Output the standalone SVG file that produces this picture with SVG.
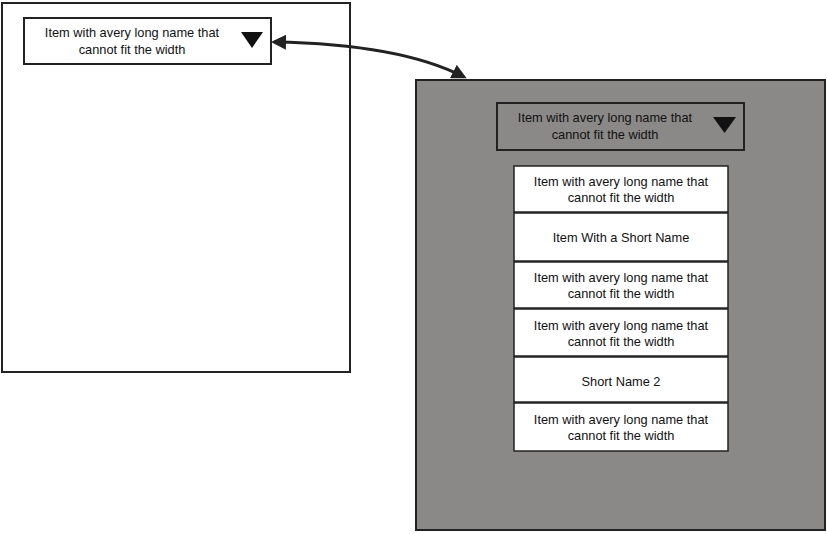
<svg xmlns="http://www.w3.org/2000/svg" width="827" height="534" viewBox="0 0 827 534">
<defs>
<style>
.frame{fill:#fff;stroke:#222;stroke-width:2}
.dark{fill:#8a8987;stroke:#222;stroke-width:2}
.dd{stroke:#222;stroke-width:2}
.item{fill:#fff;stroke:#222;stroke-width:1.5}
text{font-family:"Liberation Sans",Arial,sans-serif;font-size:12.8px;fill:#111;text-anchor:middle}
.conn{fill:none;stroke:#222;stroke-width:3}
</style>
<marker id="ah" viewBox="0 0 10 10" refX="8" refY="5" markerWidth="5" markerHeight="5" orient="auto-start-reverse" markerUnits="strokeWidth">
<path d="M0,0 L10,5 L0,10 z" fill="#222"/>
</marker>
</defs>
<g id="left-frame">
<rect class="frame" x="2" y="3" width="348" height="369"/>
</g>
<g id="left-dropdown">
<rect class="dd" x="24" y="18" width="247" height="46" fill="#fff"/>
<text x="132" y="37">Item with avery long name that</text>
<text x="132" y="54">cannot fit the width</text>
<path d="M241,32 L263,32 L252,48 z" fill="#111"/>
</g>
<g id="right-frame">
<rect class="dark" x="416" y="80" width="409" height="450"/>
</g>
<g id="right-dropdown">
<rect class="dd" x="497" y="103" width="247" height="47" fill="#8a8987"/>
<text x="605" y="122">Item with avery long name that</text>
<text x="605" y="139">cannot fit the width</text>
<path d="M713,117 L736,117 L724.5,133 z" fill="#111"/>
</g>
<g id="item1">
<rect class="item" x="514" y="166" width="214" height="46"/>
<text x="621" y="186">Item with avery long name that</text>
<text x="621" y="202">cannot fit the width</text>
</g>
<g id="item2">
<rect class="item" x="514" y="213" width="214" height="48"/>
<text x="621" y="242">Item With a Short Name</text>
</g>
<g id="item3">
<rect class="item" x="514" y="262" width="214" height="46"/>
<text x="621" y="282">Item with avery long name that</text>
<text x="621" y="298">cannot fit the width</text>
</g>
<g id="item4">
<rect class="item" x="514" y="309" width="214" height="47"/>
<text x="621" y="330">Item with avery long name that</text>
<text x="621" y="346">cannot fit the width</text>
</g>
<g id="item5">
<rect class="item" x="514" y="357" width="214" height="45"/>
<text x="621" y="386">Short Name 2</text>
</g>
<g id="item6">
<rect class="item" x="514" y="403" width="214" height="48"/>
<text x="621" y="424">Item with avery long name that</text>
<text x="621" y="440">cannot fit the width</text>
</g>
<g id="connectors">
<path class="conn" d="M274,42 Q400,44 464,77" marker-start="url(#ah)" marker-end="url(#ah)"/>
</g>
</svg>
